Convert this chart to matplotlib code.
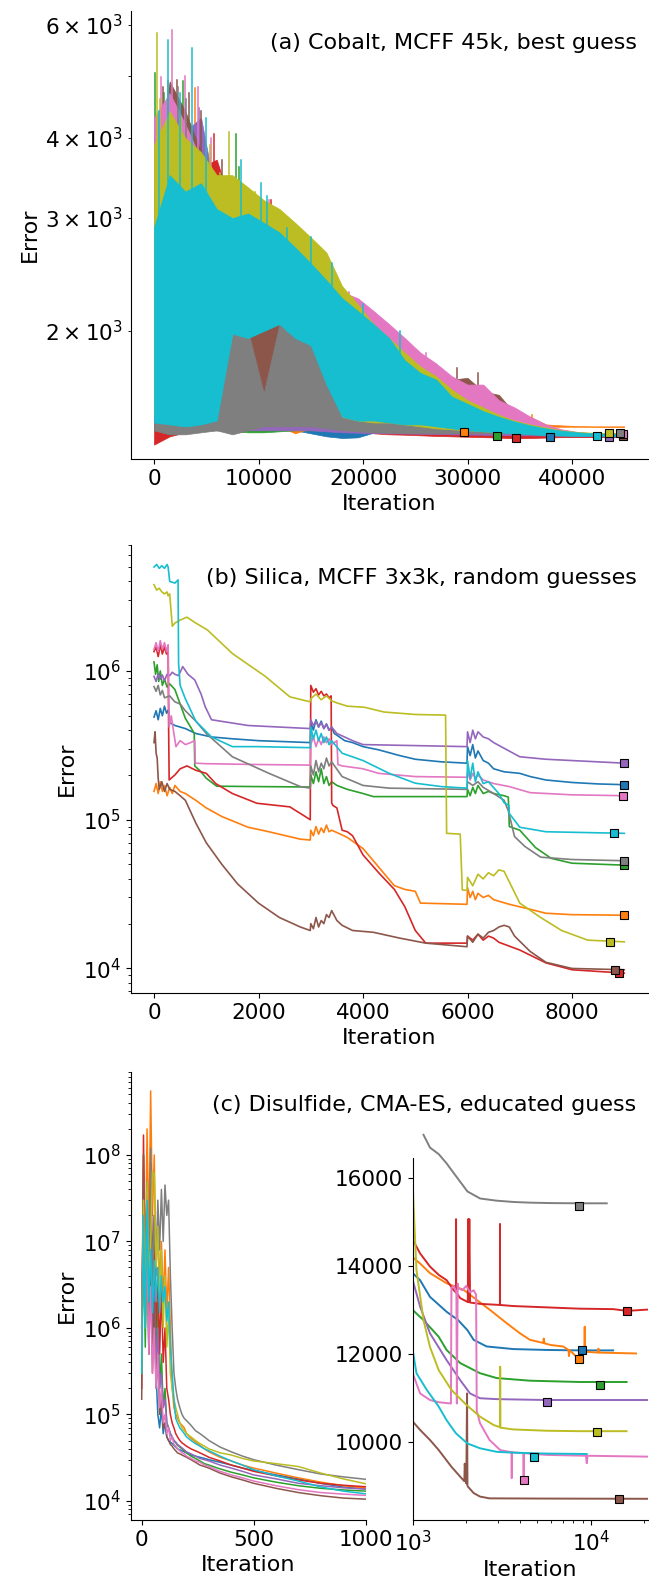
import numpy as np
import matplotlib
matplotlib.use("Agg")
import matplotlib.pyplot as plt

plt.rcParams['font.size'] = 16
plt.rcParams['xtick.labelsize'] = 15.5
plt.rcParams['ytick.labelsize'] = 15.5

cols = ['#1f77b4', '#ff7f0e', '#2ca02c', '#d62728', '#9467bd',
        '#8c564b', '#e377c2', '#7f7f7f', '#bcbd22', '#17becf']

# ---------------- (a) Cobalt: noisy traces, stored as upper/lower envelope
a_it = list(range(0, 45001, 1500))
a_blue_hi = [3200, 4000, 4200, 3900, 3300, 2900, 2700, 2500, 2400, 2300, 2200, 1900, 1450, 1430, 1420, 1410, 1405, 1400, 1398, 1395, 1390, 1388, 1385, 1382, 1380, 1378, 1376, 1375, 1374, 1374, 1374]
a_blue_lo = [1400, 1400, 1410, 1420, 1420, 1430, 1430, 1420, 1410, 1400, 1385, 1370, 1362, 1365, 1388, 1388, 1388, 1388, 1388, 1388, 1388, 1388, 1386, 1384, 1380, 1369, 1369, 1369, 1369, 1369, 1369]
a_orange_hi = [3000, 3800, 4300, 4000, 3200, 3000, 2800, 2600, 2500, 2400, 2200, 2000, 1800, 1650, 1600, 1550, 1520, 1500, 1480, 1460, 1450, 1450, 1450, 1460, 1470, 1430, 1425, 1422, 1420, 1420, 1420]
a_orange_lo = [1420, 1400, 1410, 1410, 1420, 1420, 1420, 1420, 1420, 1385, 1410, 1410, 1405, 1400, 1400, 1398, 1396, 1395, 1394, 1393, 1395, 1400, 1405, 1410, 1415, 1418, 1418, 1418, 1418, 1418, 1418]
a_green_hi = [4000, 4300, 3900, 3700, 3500, 3300, 2900, 2700, 2600, 2500, 2300, 2100, 1800, 1600, 1550, 1500, 1480, 1450, 1430, 1420, 1410, 1400, 1392, 1388, 1385, 1382, 1380, 1378, 1376, 1376, 1376]
a_green_lo = [1420, 1400, 1400, 1410, 1400, 1395, 1390, 1390, 1395, 1400, 1400, 1400, 1400, 1395, 1392, 1390, 1388, 1386, 1384, 1380, 1376, 1374, 1372, 1374, 1375, 1376, 1376, 1376, 1376, 1376, 1376]
a_red_hi = [3500, 4200, 4000, 3600, 3700, 3100, 3100, 2900, 2700, 2500, 2300, 2000, 1460, 1440, 1440, 1430, 1430, 1425, 1420, 1415, 1410, 1405, 1400, 1395, 1390, 1385, 1380, 1378, 1375, 1375, 1375]
a_red_lo = [1330, 1370, 1390, 1400, 1400, 1420, 1430, 1430, 1430, 1420, 1420, 1410, 1400, 1395, 1385, 1380, 1378, 1375, 1372, 1370, 1368, 1366, 1364, 1360, 1362, 1364, 1366, 1366, 1366, 1366, 1366]
a_purple_hi = [3300, 4500, 4100, 4300, 3200, 2800, 2600, 2500, 2400, 2300, 2200, 2000, 1700, 1550, 1500, 1480, 1460, 1450, 1440, 1430, 1420, 1410, 1400, 1395, 1390, 1385, 1380, 1378, 1375, 1372, 1370]
a_purple_lo = [1420, 1410, 1400, 1400, 1410, 1400, 1400, 1400, 1400, 1400, 1400, 1395, 1390, 1388, 1386, 1385, 1384, 1383, 1382, 1380, 1379, 1378, 1377, 1376, 1375, 1374, 1373, 1372, 1371, 1369, 1369]
a_brown_hi = [3600, 4900, 4400, 3800, 3300, 3000, 2900, 2600, 2500, 2400, 2300, 2200, 2100, 2000, 1950, 1850, 1800, 1750, 1700, 1680, 1690, 1610, 1590, 1490, 1460, 1420, 1400, 1390, 1385, 1380, 1378]
a_brown_lo = [1400, 1380, 1400, 1400, 1420, 1450, 1480, 1480, 1480, 1460, 1450, 1440, 1430, 1420, 1420, 1415, 1410, 1410, 1410, 1405, 1400, 1395, 1390, 1385, 1380, 1378, 1376, 1374, 1372, 1372, 1372]
a_pink_hi = [4300, 4700, 4200, 3700, 3300, 3200, 3000, 2800, 2700, 2600, 2450, 2350, 2300, 2250, 2150, 2050, 1950, 1850, 1780, 1700, 1650, 1650, 1560, 1520, 1470, 1430, 1405, 1392, 1385, 1382, 1380]
a_pink_lo = [1450, 1450, 1450, 1470, 1500, 2000, 2000, 2050, 2100, 2000, 1950, 1700, 1500, 1480, 1470, 1460, 1460, 1460, 1460, 1450, 1440, 1430, 1420, 1410, 1400, 1392, 1385, 1382, 1380, 1380, 1380]
a_gray_hi = [3300, 3900, 3700, 3300, 2800, 2050, 2000, 1600, 2050, 1950, 1950, 1750, 1500, 1470, 1450, 1440, 1430, 1420, 1415, 1410, 1405, 1400, 1395, 1392, 1390, 1388, 1386, 1385, 1385, 1385, 1385]
a_gray_lo = [1400, 1380, 1380, 1390, 1400, 1380, 1400, 1420, 1420, 1420, 1420, 1410, 1400, 1395, 1390, 1388, 1386, 1385, 1385, 1385, 1385, 1385, 1385, 1385, 1385, 1385, 1385, 1385, 1385, 1385, 1385]
a_olive_hi = [3900, 4400, 4000, 3800, 3500, 3500, 3350, 3200, 3100, 2950, 2800, 2650, 2350, 2200, 2050, 1950, 1850, 1760, 1700, 1620, 1560, 1520, 1480, 1450, 1430, 1415, 1400, 1392, 1388, 1386, 1385]
a_olive_lo = [1480, 1450, 1450, 1460, 1500, 2000, 2000, 2050, 2100, 2000, 1950, 1700, 1470, 1450, 1440, 1440, 1430, 1420, 1410, 1405, 1400, 1395, 1392, 1390, 1388, 1386, 1385, 1385, 1385, 1385, 1385]
a_cyan_hi = [2900, 3500, 3300, 3400, 3100, 3000, 3050, 2950, 2850, 2700, 2550, 2400, 2250, 2150, 2050, 1950, 1800, 1720, 1680, 1580, 1540, 1500, 1470, 1445, 1425, 1410, 1398, 1390, 1385, 1382, 1380]
a_cyan_lo = [1440, 1430, 1420, 1430, 1450, 1980, 1950, 2000, 2050, 1950, 1900, 1650, 1470, 1450, 1450, 1440, 1430, 1430, 1420, 1410, 1400, 1395, 1390, 1385, 1380, 1376, 1374, 1372, 1372, 1372, 1372]
# single spikes sticking out of the bands: series index, iteration, value
a_spike_idx = [8, 2, 9, 6, 6, 5, 7, 9, 1, 4, 3, 8, 2, 3, 9, 8, 6, 8, 1,
               8, 8, 8, 8, 8, 8, 8, 8, 8, 8,
               6, 6, 6, 6, 6, 6, 6, 6, 6, 6,
               3, 3, 3,
               9, 9, 9, 9, 9, 9, 9, 9, 9, 9,
               5, 5, 5, 5, 5, 5,
               7, 7, 2, 2, 2, 4]
a_spike_it = [240, 120, 1350, 1700, 710, 2220, 2300, 3600, 3880, 4280, 5780, 7130, 7840, 10000, 10800, 12200, 14500, 6300, 36200,
              600, 2600, 5400, 9700, 11800, 13200, 15400, 16200, 17500, 19000,
              3000, 4200, 5500, 11000, 16000, 18700, 21000, 22500, 26000, 24000,
              11200, 13100, 18000,
              500, 2500, 5000, 8300, 10200, 12700, 15000, 17000, 20000, 23500,
              900, 3300, 4500, 6500, 29000, 31000,
              1300, 3100, 1000, 2800, 8100, 2000]
a_spike_val = [5840, 5050, 5680, 5900, 4970, 4930, 4800, 5530, 4790, 4450, 4050, 4080, 4060, 3120, 3250, 2870, 2700, 3530, 1480,
               4600, 4300, 3900, 3300, 3050, 2950, 2700, 2550, 2400, 2250,
               5000, 4800, 4000, 3200, 2650, 2300, 2060, 1980, 1850, 1920,
               3200, 2850, 2150,
               4400, 4700, 4300, 3700, 3400, 2900, 2800, 2550, 2200, 2000,
               4800, 4700, 4400, 3700, 1750, 1720,
               4900, 4600, 4700, 4900, 3600, 4700]
a_best_it = [37870, 29640, 32830, 34680, 43550, 44890, 44890, 44570, 43550, 42400]
a_best_val = [1369, 1393, 1372, 1360, 1369, 1372, 1380, 1385, 1385, 1372]

# ---------------- (b) Silica
b_blue_it = [0, 40, 80, 120, 160, 200, 240, 280, 300, 400, 600, 800, 1100, 1500, 2000, 2500, 2990, 3000, 3050, 3100, 3150, 3200, 3250, 3300, 3350, 3400, 3450, 3500, 3650, 3800, 4000, 4300, 4700, 5000, 5500, 5990, 6000, 6050, 6100, 6150, 6200, 6300, 6400, 6500, 6700, 7000, 7200, 7500, 8000, 8500, 9000]
b_blue_val = [4.9e5, 5.4e5, 4.7e5, 5.6e5, 5.0e5, 5.8e5, 5.2e5, 5.5e5, 4.5e5, 4.3e5, 4.1e5, 3.8e5, 3.6e5, 3.5e5, 3.4e5, 3.35e5, 3.3e5, 4.5e5, 4.0e5, 4.7e5, 4.2e5, 4.6e5, 4.1e5, 4.4e5, 4.0e5, 4.2e5, 3.8e5, 3.7e5, 3.4e5, 3.3e5, 3.1e5, 2.95e5, 2.7e5, 2.55e5, 2.45e5, 2.4e5, 3.1e5, 2.7e5, 3.2e5, 2.6e5, 2.9e5, 2.5e5, 2.4e5, 2.2e5, 2.1e5, 2.05e5, 1.95e5, 1.85e5, 1.78e5, 1.74e5, 1.72e5]
b_orange_it = [0, 40, 80, 120, 160, 200, 250, 300, 350, 400, 500, 600, 800, 1000, 1300, 1800, 2200, 2800, 2990, 3000, 3050, 3100, 3150, 3200, 3250, 3300, 3350, 3400, 3500, 3700, 4000, 4300, 4600, 4800, 5000, 5100, 5990, 6000, 6050, 6100, 6150, 6200, 6300, 6400, 6500, 6800, 7200, 7500, 8000, 9000]
b_orange_val = [1.55e5, 1.75e5, 1.5e5, 1.8e5, 1.55e5, 1.7e5, 1.45e5, 1.65e5, 1.5e5, 1.7e5, 1.55e5, 1.5e5, 1.35e5, 1.2e5, 1.05e5, 8.9e4, 8.3e4, 7.4e4, 7.3e4, 8.5e4, 7.8e4, 9.0e4, 8.0e4, 8.8e4, 8.2e4, 9.2e4, 8.3e4, 8.5e4, 8.2e4, 7.6e4, 6.4e4, 4.8e4, 3.6e4, 3.4e4, 3.3e4, 2.75e4, 2.7e4, 3.5e4, 3.0e4, 3.3e4, 2.9e4, 3.2e4, 3.0e4, 3.1e4, 2.9e4, 2.7e4, 2.5e4, 2.35e4, 2.3e4, 2.28e4]
b_green_it = [0, 30, 60, 90, 120, 160, 200, 250, 300, 400, 500, 600, 700, 770, 780, 900, 1000, 1200, 2000, 2990, 3000, 3050, 3100, 3150, 3200, 3250, 3300, 3350, 3400, 3500, 3700, 4000, 4200, 5000, 5990, 6000, 6050, 6100, 6150, 6200, 6300, 6400, 6500, 6700, 6780, 6800, 7000, 7300, 7600, 8000, 9000]
b_green_val = [1.15e6, 9.5e5, 1.1e6, 8.5e5, 1.0e6, 8.0e5, 8.8e5, 7.8e5, 8.2e5, 7.5e5, 6.0e5, 4.8e5, 4.2e5, 3.8e5, 2.3e5, 2.1e5, 1.9e5, 1.68e5, 1.67e5, 1.66e5, 2.0e5, 1.75e5, 2.1e5, 1.8e5, 2.2e5, 1.75e5, 1.95e5, 1.7e5, 1.8e5, 1.7e5, 1.6e5, 1.5e5, 1.43e5, 1.43e5, 1.43e5, 1.6e5, 1.45e5, 1.65e5, 1.5e5, 1.7e5, 1.5e5, 1.55e5, 1.5e5, 1.45e5, 1.42e5, 9.0e4, 8.5e4, 6.5e4, 5.5e4, 5.1e4, 4.95e4]
b_red_it = [0, 40, 80, 120, 160, 200, 240, 270, 280, 290, 400, 500, 630, 800, 1000, 1180, 1500, 1970, 2600, 2840, 2990, 3000, 3050, 3100, 3150, 3200, 3250, 3300, 3350, 3390, 3400, 3420, 3500, 3600, 3700, 3800, 4000, 4300, 4600, 4800, 5000, 5200, 5990, 6000, 6100, 6200, 6300, 6400, 6500, 6600, 7000, 7500, 8000, 9000]
b_red_val = [1.35e6, 1.45e6, 1.25e6, 1.5e6, 1.3e6, 1.45e6, 1.3e6, 1.4e6, 4.0e5, 1.85e5, 2.0e5, 2.2e5, 2.3e5, 2.15e5, 2.05e5, 1.75e5, 1.5e5, 1.29e5, 1.22e5, 1.08e5, 1.0e5, 8.0e5, 7.2e5, 7.6e5, 6.9e5, 7.3e5, 6.8e5, 7.0e5, 6.6e5, 6.8e5, 1.3e5, 1.25e5, 1.2e5, 8.5e4, 8.3e4, 7.8e4, 5.8e4, 4.4e4, 3.4e4, 2.6e4, 1.8e4, 1.48e4, 1.48e4, 1.65e4, 1.55e4, 1.7e4, 1.55e4, 1.65e4, 1.6e4, 1.5e4, 1.33e4, 1.09e4, 9.8e3, 9.3e3]
b_purple_it = [0, 40, 80, 120, 160, 200, 250, 300, 350, 400, 470, 550, 650, 780, 900, 980, 1100, 1800, 2990, 3000, 3050, 3100, 3150, 3200, 3250, 3300, 3350, 3400, 3500, 3800, 4000, 5000, 5990, 6000, 6050, 6100, 6150, 6200, 6300, 6400, 6500, 7000, 7500, 9000]
b_purple_val = [9.2e5, 8.5e5, 9.6e5, 8.8e5, 9.4e5, 8.6e5, 9.5e5, 9.3e5, 9.8e5, 9.5e5, 9.3e5, 1.07e6, 9.5e5, 8.7e5, 7.0e5, 5.75e5, 4.7e5, 4.3e5, 4.1e5, 4.7e5, 4.3e5, 4.6e5, 4.2e5, 4.5e5, 4.1e5, 4.4e5, 4.0e5, 4.2e5, 3.8e5, 3.4e5, 3.2e5, 3.15e5, 3.1e5, 3.9e5, 3.3e5, 4.0e5, 3.5e5, 3.9e5, 3.6e5, 3.5e5, 3.3e5, 2.65e5, 2.55e5, 2.4e5]
b_brown_it = [0, 20, 40, 60, 80, 100, 150, 200, 250, 300, 400, 500, 600, 800, 1000, 1300, 1600, 2000, 2400, 2800, 2990, 3000, 3050, 3100, 3150, 3200, 3250, 3300, 3350, 3400, 3500, 3600, 3800, 4200, 4700, 5200, 5990, 6000, 6100, 6200, 6300, 6400, 6500, 6600, 6700, 6800, 6900, 7200, 7500, 8000, 9000]
b_brown_val = [3.3e5, 3.9e5, 2.8e5, 2.6e5, 1.9e5, 1.6e5, 1.8e5, 1.55e5, 1.75e5, 1.6e5, 1.55e5, 1.45e5, 1.35e5, 9.5e4, 7.0e4, 5.0e4, 3.7e4, 2.75e4, 2.2e4, 1.9e4, 1.8e4, 2.0e4, 1.85e4, 2.2e4, 1.9e4, 2.1e4, 2.0e4, 2.3e4, 2.2e4, 2.45e4, 2.1e4, 1.95e4, 1.8e4, 1.75e4, 1.6e4, 1.48e4, 1.4e4, 1.65e4, 1.5e4, 1.7e4, 1.6e4, 1.75e4, 1.8e4, 1.9e4, 1.95e4, 1.9e4, 1.65e4, 1.3e4, 1.1e4, 1.0e4, 9.8e3]
b_pink_it = [0, 40, 80, 120, 160, 200, 240, 270, 290, 330, 380, 420, 500, 600, 700, 780, 790, 1000, 2000, 2990, 3000, 3050, 3100, 3150, 3200, 3250, 3300, 3350, 3400, 3500, 3520, 3600, 4000, 4300, 5000, 5990, 6000, 6050, 6100, 6150, 6200, 6300, 6400, 6500, 6800, 7200, 8000, 9000]
b_pink_val = [1.4e6, 1.55e6, 1.35e6, 1.6e6, 1.4e6, 1.55e6, 1.35e6, 1.5e6, 4.2e5, 5.0e5, 3.8e5, 3.1e5, 3.4e5, 3.2e5, 3.3e5, 3.4e5, 2.4e5, 2.38e5, 2.35e5, 2.33e5, 3.2e5, 3.6e5, 3.1e5, 3.5e5, 3.2e5, 3.6e5, 3.3e5, 3.5e5, 3.2e5, 3.4e5, 2.35e5, 2.3e5, 2.2e5, 2.05e5, 1.95e5, 1.93e5, 2.1e5, 1.85e5, 2.05e5, 1.9e5, 2.0e5, 1.85e5, 1.8e5, 1.75e5, 1.67e5, 1.52e5, 1.47e5, 1.45e5]
b_gray_it = [0, 40, 80, 120, 160, 200, 300, 400, 500, 600, 800, 1000, 1500, 2200, 2800, 2990, 3000, 3050, 3100, 3150, 3200, 3250, 3300, 3350, 3400, 3600, 4000, 4500, 5990, 6000, 6100, 6200, 6300, 6500, 6700, 6780, 6900, 7100, 7400, 8000, 9000]
b_gray_val = [7.85e5, 7.3e5, 8.0e5, 6.9e5, 7.4e5, 6.6e5, 6.8e5, 6.2e5, 6.0e5, 5.4e5, 4.6e5, 3.8e5, 2.65e5, 2.05e5, 1.67e5, 1.63e5, 2.3e5, 2.0e5, 2.5e5, 2.1e5, 2.4e5, 2.2e5, 2.6e5, 2.3e5, 2.45e5, 1.95e5, 1.7e5, 1.63e5, 1.6e5, 1.8e5, 1.7e5, 1.8e5, 1.65e5, 1.5e5, 1.35e5, 1.15e5, 7.7e4, 6.6e4, 5.6e4, 5.4e4, 5.3e4]
b_olive_it = [0, 50, 100, 150, 200, 250, 270, 300, 350, 400, 500, 630, 800, 1020, 1500, 2130, 2600, 2990, 3000, 3100, 3200, 3300, 3400, 3500, 3700, 4030, 4400, 5000, 5580, 5600, 5860, 5900, 5990, 6000, 6100, 6200, 6300, 6400, 6500, 6600, 6700, 7000, 7400, 7800, 8300, 9000]
b_olive_val = [3.8e6, 3.5e6, 3.6e6, 3.4e6, 3.3e6, 3.4e6, 3.2e6, 3.3e6, 2.0e6, 2.1e6, 2.2e6, 2.3e6, 2.1e6, 1.89e6, 1.31e6, 9.2e5, 6.7e5, 6.2e5, 6.5e5, 7.0e5, 6.4e5, 6.8e5, 6.3e5, 6.1e5, 5.8e5, 5.7e5, 5.3e5, 5.1e5, 5.05e5, 8.1e4, 8.0e4, 3.37e4, 3.35e4, 4.1e4, 3.6e4, 4.3e4, 4.0e4, 4.4e4, 4.2e4, 4.6e4, 4.5e4, 2.75e4, 2.2e4, 1.8e4, 1.55e4, 1.51e4]
b_cyan_it = [0, 50, 100, 150, 200, 250, 270, 300, 400, 460, 470, 500, 600, 800, 1100, 1500, 2000, 2990, 3000, 3050, 3100, 3150, 3200, 3250, 3300, 3350, 3400, 3600, 4000, 4500, 5000, 5500, 5990, 6000, 6050, 6100, 6150, 6200, 6300, 6400, 6600, 6700, 6790, 6800, 7000, 7500, 9000]
b_cyan_val = [5.0e6, 5.2e6, 4.9e6, 5.1e6, 4.9e6, 5.2e6, 5.0e6, 4.0e6, 3.9e6, 4.1e6, 1.13e6, 8.0e5, 6.5e5, 4.6e5, 3.6e5, 3.1e5, 3.1e5, 3.05e5, 4.2e5, 3.5e5, 4.0e5, 3.4e5, 3.8e5, 3.3e5, 3.6e5, 3.2e5, 3.4e5, 2.8e5, 2.5e5, 2.05e5, 1.76e5, 1.67e5, 1.63e5, 2.5e5, 1.9e5, 2.4e5, 1.8e5, 2.1e5, 1.75e5, 1.8e5, 1.5e5, 1.3e5, 1.25e5, 1.1e5, 8.9e4, 8.3e4, 8.1e4]
b_best_it = [9000, 9000, 8990, 8890, 9000, 8830, 8970, 9000, 8720, 8810]
b_best_val = [1.72e5, 2.28e4, 4.95e4, 9.37e3, 2.4e5, 9.77e3, 1.45e5, 5.3e4, 1.51e4, 8.1e4]

# ---------------- (c) Disulfide, first 1000 iterations
c_it = [0, 8, 16, 24, 32, 40, 48, 56, 64, 72, 80, 88, 96, 104, 112, 120, 128, 136, 144, 152, 160,
        170, 180, 190, 200, 220, 240, 260, 280, 300, 350, 400, 450, 500, 600, 700, 800, 900, 1000]
c_blue = [5e5, 2e7, 1e6, 1e7, 5e5, 3e7, 2e6, 1e7, 3e5, 1e5, 7e4, 1.2e5, 6e4, 8e4, 5.5e4, 5e4, 4.8e4, 4.6e4, 4.4e4, 4.2e4, 4e4, 3.9e4, 3.8e4, 3.7e4, 3.6e4, 3.4e4, 3.3e4, 3.2e4, 3.1e4, 3e4, 2.8e4, 2.6e4, 2.4e4, 2.25e4, 2e4, 1.8e4, 1.6e4, 1.45e4, 1.38e4]
c_orange = [1e6, 1e8, 5e6, 2e8, 1e7, 5.5e8, 2e7, 1e8, 5e6, 2e7, 3e6, 1e7, 2e6, 8e6, 1.5e6, 5e6, 1e6, 2e5, 1.2e5, 1e5, 9e4, 8e4, 7.5e4, 7e4, 6e4, 5.3e4, 4.8e4, 4.4e4, 4e4, 3.7e4, 3.2e4, 2.9e4, 2.6e4, 2.4e4, 2.1e4, 1.85e4, 1.65e4, 1.5e4, 1.41e4]
c_green = [4e5, 1e7, 6e5, 3e7, 2e6, 1e7, 8e5, 4e6, 4e5, 2e6, 2e5, 5e5, 1.2e5, 2e5, 8e4, 7e4, 6e4, 5.5e4, 5e4, 4.7e4, 4.4e4, 4.2e4, 4e4, 3.8e4, 3.6e4, 3.3e4, 3.1e4, 2.9e4, 2.7e4, 2.6e4, 2.35e4, 2.15e4, 2e4, 1.85e4, 1.65e4, 1.5e4, 1.4e4, 1.34e4, 1.3e4]
c_red = [2e5, 1.7e8, 2e6, 5e7, 1e6, 8e7, 5e6, 2e7, 1e6, 5e6, 5e5, 3e6, 4e5, 1e6, 2e5, 1.5e5, 1e5, 8e4, 7e4, 6e4, 5.5e4, 5e4, 4.7e4, 4.5e4, 4.3e4, 4e4, 3.8e4, 3.6e4, 3.4e4, 3.2e4, 2.9e4, 2.6e4, 2.4e4, 2.2e4, 1.95e4, 1.75e4, 1.6e4, 1.52e4, 1.46e4]
c_purple = [1e6, 5e7, 3e6, 2e7, 1e6, 6e6, 5e5, 3e6, 3e5, 1e6, 2e5, 3e5, 1.2e5, 1.5e5, 8e4, 7e4, 6e4, 5.5e4, 5e4, 4.8e4, 4.5e4, 4.3e4, 4.1e4, 3.9e4, 3.7e4, 3.5e4, 3.3e4, 3.1e4, 3e4, 2.9e4, 2.6e4, 2.4e4, 2.2e4, 2e4, 1.8e4, 1.6e4, 1.5e4, 1.42e4, 1.37e4]
c_brown = [1.5e5, 1e8, 2e6, 3e7, 5e5, 1e7, 3e5, 2e6, 2e5, 5e5, 1e5, 1.5e5, 7e4, 8e4, 5.5e4, 5e4, 4.5e4, 4.3e4, 4e4, 3.8e4, 3.6e4, 3.5e4, 3.4e4, 3.3e4, 3.2e4, 3e4, 2.8e4, 2.6e4, 2.5e4, 2.4e4, 2.1e4, 1.9e4, 1.75e4, 1.6e4, 1.4e4, 1.25e4, 1.15e4, 1.08e4, 1.05e4]
c_pink = [5e5, 2e7, 2e6, 8e6, 5e5, 3e6, 3e5, 1e6, 2e5, 5e5, 1.2e5, 2e5, 8e4, 1e5, 6e4, 7e4, 5e4, 5.5e4, 4.5e4, 4.3e4, 4e4, 3.8e4, 3.6e4, 3.5e4, 3.3e4, 3.1e4, 2.9e4, 2.8e4, 2.6e4, 2.5e4, 2.2e4, 2e4, 1.85e4, 1.7e4, 1.5e4, 1.35e4, 1.25e4, 1.2e4, 1.16e4]
c_gray = [1e6, 3e7, 5e6, 4e7, 2e6, 1.2e8, 3e6, 2e7, 4e6, 3e7, 8e6, 4e7, 1e7, 4.5e7, 2e7, 3e7, 4e6, 1e6, 3e5, 2e5, 1.5e5, 1.2e5, 1e5, 9e4, 8.5e4, 7.5e4, 6.5e4, 6e4, 5.5e4, 5e4, 4.2e4, 3.7e4, 3.3e4, 3e4, 2.6e4, 2.3e4, 2.05e4, 1.9e4, 1.78e4]
c_olive = [3e5, 3e7, 1e6, 5e7, 3e6, 1e7, 6.5e7, 6e7, 5e6, 1.5e7, 2e6, 8e6, 1e6, 4e6, 6e5, 1.5e6, 3e5, 2e5, 1.5e5, 1.2e5, 1e5, 8e4, 7e4, 6.5e4, 6e4, 5.5e4, 5e4, 4.6e4, 4.3e4, 4e4, 3.6e4, 3.4e4, 3.1e4, 2.9e4, 2.7e4, 2.5e4, 2.1e4, 1.8e4, 1.58e4]
c_cyan = [3e5, 2e7, 1e6, 3e7, 2e6, 8e6, 1.5e6, 6e6, 2e6, 5e6, 1.5e6, 4e6, 2e6, 3e6, 1.2e6, 2e6, 6e5, 3e5, 1.5e5, 9e4, 8e4, 7e4, 6.5e4, 6e4, 5.5e4, 5e4, 4.6e4, 4.3e4, 4e4, 3.8e4, 3.3e4, 2.9e4, 2.6e4, 2.3e4, 1.95e4, 1.7e4, 1.45e4, 1.3e4, 1.21e4]

# ---------------- (c) inset, 1000 iterations onward
d_blue_it = [1000, 1100, 1250, 1550, 1800, 2030, 2200, 2600, 3670, 5650, 8690, 13360]
d_blue_val = [13840, 13680, 13300, 12960, 12770, 12540, 12320, 12170, 12110, 12090, 12080, 12080]
d_orange_it = [1000, 1100, 1250, 1550, 1930, 2290, 2720, 3370, 4000, 4560, 5400, 5450, 5500, 6000, 7000, 7500, 7550, 7600, 8560, 8690, 9200, 9250, 9300, 11000, 11050, 11100, 17970]
d_orange_val = [14200, 14060, 13840, 13610, 13460, 13230, 13000, 12700, 12470, 12320, 12250, 12350, 12240, 12200, 12170, 12090, 11950, 12090, 11880, 12050, 12050, 12620, 12050, 12030, 12120, 12030, 12010]
d_green_it = [1000, 1150, 1400, 1550, 1850, 2390, 2960, 4560, 8690, 15900]
d_green_val = [13000, 12770, 12390, 12090, 11790, 11560, 11450, 11390, 11360, 11360]
d_red_it = [1000, 1100, 1250, 1400, 1550, 1700, 1750, 1752, 1755, 1850, 2040, 2050, 2060, 2080, 2090, 2100, 2390, 3090, 3092, 3095, 3670, 5650, 8690, 13360, 16000, 21000]
d_red_val = [14600, 14290, 13990, 13800, 13680, 13450, 13400, 15070, 13400, 13270, 13180, 15070, 13180, 15070, 14200, 13170, 13140, 13115, 14960, 13115, 13090, 13060, 13030, 13020, 12980, 13010]
d_purple_it = [1000, 1100, 1250, 1550, 1850, 2100, 2390, 2960, 5650, 21000]
d_purple_val = [13680, 13080, 12470, 11860, 11400, 11100, 10990, 10970, 10950, 10950]
d_brown_it = [1000, 1100, 1250, 1400, 1650, 1880, 1950, 1960, 2000, 2020, 2030, 2040, 2200, 2390, 2700, 5650, 21000]
d_brown_val = [10460, 10270, 10040, 9810, 9430, 9170, 9100, 9500, 9050, 11100, 9000, 8980, 8830, 8750, 8710, 8705, 8700]
d_pink_it = [1000, 1100, 1250, 1400, 1640, 1650, 1700, 1760, 1770, 1790, 1800, 1900, 2000, 2100, 2200, 2270, 2290, 2390, 2700, 3100, 3590, 3600, 3610, 4190, 4200, 4210, 5650, 9400, 9500, 9600, 21000]
d_pink_val = [11560, 11100, 10950, 10900, 10870, 13500, 13550, 13400, 10870, 13600, 13500, 13450, 13550, 13400, 13450, 13350, 10700, 10420, 10040, 9810, 9760, 9170, 9760, 9740, 9130, 9740, 9700, 9680, 9510, 9680, 9660]
d_gray_it = [1150, 1250, 1400, 1550, 1750, 2030, 2390, 2960, 3700, 4560, 6000, 8690, 12300]
d_gray_val = [16990, 16700, 16550, 16340, 16050, 15700, 15540, 15490, 15460, 15445, 15435, 15430, 15430]
d_olive_it = [1000, 1010, 1050, 1150, 1250, 1400, 1650, 2000, 2390, 2850, 3090, 3100, 3110, 3670, 5650, 8690, 15900]
d_olive_val = [15900, 15430, 13910, 12770, 12160, 11630, 11180, 10840, 10570, 10380, 10330, 11710, 10320, 10280, 10250, 10240, 10240]
d_cyan_it = [1000, 1050, 1200, 1400, 1550, 1750, 2030, 2390, 2960, 3670, 5650, 9500]
d_cyan_val = [12090, 11560, 11180, 10800, 10490, 10190, 9960, 9850, 9770, 9750, 9730, 9720]
d_best_it = [8920, 8560, 11230, 16000, 5650, 14500, 4200, 8560, 10900, 4800]
d_best_val = [12080, 11880, 11290, 12980, 10910, 8690, 9130, 15380, 10210, 9660]

W, H = 649, 1585
fig = plt.figure(figsize=(W / 100, H / 100), dpi=100)


def box(l, t, r, b):
    return [l / W, 1 - b / H, (r - l) / W, (b - t) / H]


def clean(ax):
    ax.spines['top'].set_visible(False)
    ax.spines['right'].set_visible(False)


mk = dict(marker='s', ms=5.5, mec='k', mew=0.8, ls='none', zorder=5)

# ---- (a)
axA = fig.add_axes(box(130.5, 11, 647.8, 459))
a_hi = [a_blue_hi, a_orange_hi, a_green_hi, a_red_hi, a_purple_hi,
        a_brown_hi, a_pink_hi, a_gray_hi, a_olive_hi, a_cyan_hi]
a_lo = [a_blue_lo, a_orange_lo, a_green_lo, a_red_lo, a_purple_lo,
        a_brown_lo, a_pink_lo, a_gray_lo, a_olive_lo, a_cyan_lo]
for i in range(10):
    z = 1 + 0.1 * i
    axA.fill_between(a_it, a_lo[i], a_hi[i], color=cols[i], lw=0.5, zorder=z)
    for k in range(len(a_spike_idx)):
        if a_spike_idx[k] == i:
            base = np.interp(a_spike_it[k], a_it, a_lo[i])
            axA.plot([a_spike_it[k], a_spike_it[k]], [base, a_spike_val[k]],
                     color=cols[i], lw=1.1, zorder=z + 0.05)
for i in range(10):
    axA.plot(a_best_it[i], a_best_val[i], color=cols[i], **mk)
axA.set_yscale('log')
axA.set_ylim(1263, 6310)
axA.set_xlim(-2250, 47250)
axA.set_xlabel('Iteration')
axA.set_ylabel('Error')
clean(axA)
fig.text(636.6 / W, 1 - 43 / H, '(a) Cobalt, MCFF 45k, best guess',
         ha='right', va='center', fontsize=16)

# ---- (b)
axB = fig.add_axes(box(130.5, 545, 647.8, 993))
b_series = [(b_blue_it, b_blue_val), (b_orange_it, b_orange_val),
            (b_green_it, b_green_val), (b_red_it, b_red_val),
            (b_purple_it, b_purple_val), (b_brown_it, b_brown_val),
            (b_pink_it, b_pink_val), (b_gray_it, b_gray_val),
            (b_olive_it, b_olive_val), (b_cyan_it, b_cyan_val)]
for i, (x, y) in enumerate(b_series):
    axB.plot(x, y, color=cols[i], lw=1.2)
for i in range(10):
    axB.plot(b_best_it[i], b_best_val[i], color=cols[i], **mk)
axB.set_yscale('log')
axB.set_ylim(10 ** 3.835, 10 ** 6.847)
axB.set_xlim(-450, 9450)
axB.set_xlabel('Iteration')
axB.set_ylabel('Error')
clean(axB)
fig.text(636.6 / W, 1 - 578 / H, '(b) Silica, MCFF 3x3k, random guesses',
         ha='right', va='center', fontsize=16)

# ---- (c) left
axC = fig.add_axes(box(130.5, 1072, 365.7, 1520))
c_series = [c_blue, c_orange, c_green, c_red, c_purple,
            c_brown, c_pink, c_gray, c_olive, c_cyan]
for i, y in enumerate(c_series):
    axC.plot(c_it, y, color=cols[i], lw=1.1)
axC.set_yscale('log')
axC.set_ylim(10 ** 3.78, 10 ** 8.959)
axC.set_xlim(-50, 1000)
axC.set_xlabel('Iteration')
axC.set_ylabel('Error')
clean(axC)
fig.text(636.6 / W, 1 - 1105 / H, '(c) Disulfide, CMA-ES, educated guess',
         ha='right', va='center', fontsize=16)

# ---- (c) inset
axD = fig.add_axes(box(412.7, 1158, 648.1, 1520))
d_series = [(d_blue_it, d_blue_val), (d_orange_it, d_orange_val),
            (d_green_it, d_green_val), (d_red_it, d_red_val),
            (d_purple_it, d_purple_val), (d_brown_it, d_brown_val),
            (d_pink_it, d_pink_val), (d_gray_it, d_gray_val),
            (d_olive_it, d_olive_val), (d_cyan_it, d_cyan_val)]
for i, (x, y) in enumerate(d_series):
    axD.plot(x, y, color=cols[i], lw=1.4, clip_on=(i != 7))
for i in range(10):
    axD.plot(d_best_it[i], d_best_val[i], color=cols[i], **mk)
axD.set_xscale('log')
axD.set_xlim(1000, 21000)
axD.set_ylim(8217, 16462)
axD.set_yticks([10000, 12000, 14000, 16000])
axD.set_xlabel('Iteration')
clean(axD)

fig.savefig('out.png', dpi=100)
